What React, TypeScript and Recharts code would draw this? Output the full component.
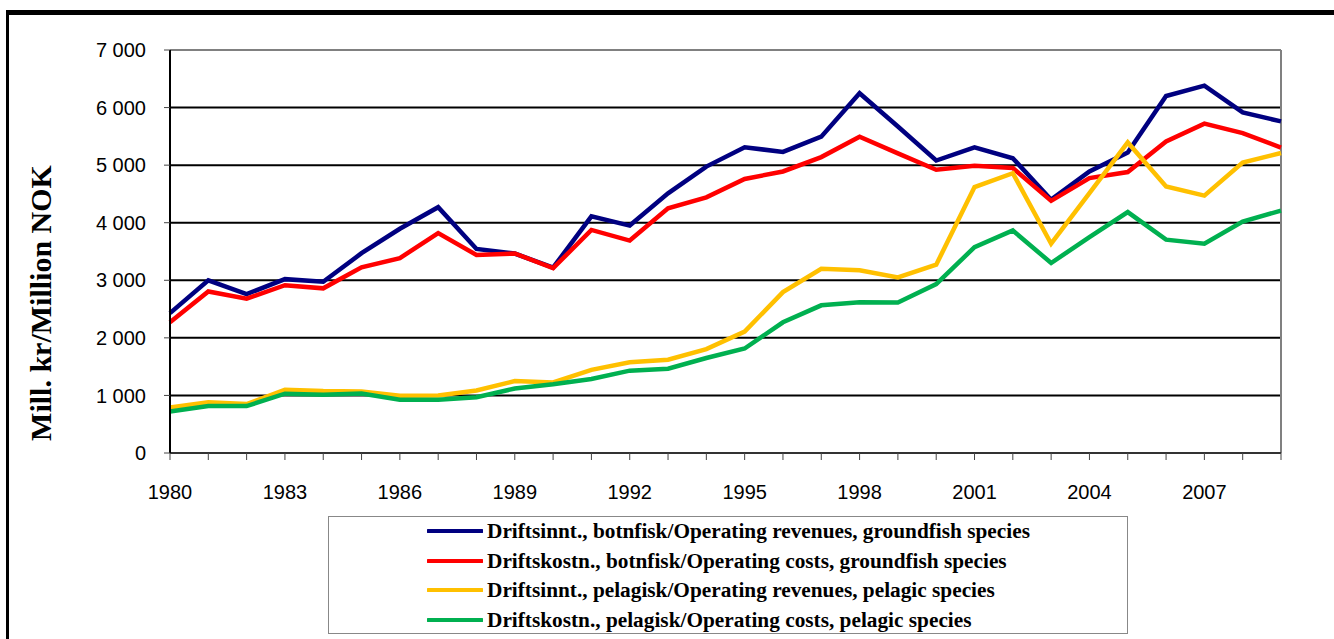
import React from 'react';
import { LineChart, Line, XAxis, YAxis, CartesianGrid, ReferenceLine, Legend, Label } from 'recharts';

const years = [1980, 1981, 1982, 1983, 1984, 1985, 1986, 1987, 1988, 1989, 1990, 1991, 1992, 1993, 1994, 1995, 1996, 1997, 1998, 1999, 2000, 2001, 2002, 2003, 2004, 2005, 2006, 2007, 2008, 2009];

const revGround = [2430, 3000, 2760, 3020, 2975, 3470, 3895, 4270, 3545, 3465, 3220, 4110, 3950, 4510, 4975, 5310, 5230, 5495, 6250, 5670, 5080, 5310, 5120, 4400, 4890, 5220, 6200, 6380, 5915, 5760];
const costGround = [2270, 2805, 2680, 2915, 2860, 3225, 3385, 3820, 3440, 3465, 3210, 3875, 3690, 4250, 4440, 4760, 4890, 5140, 5495, 5205, 4920, 4990, 4950, 4380, 4775, 4880, 5410, 5720, 5555, 5305];
const revPelagic = [790, 880, 850, 1100, 1075, 1070, 995, 1000, 1085, 1250, 1225, 1445, 1575, 1620, 1805, 2110, 2795, 3200, 3175, 3050, 3270, 4620, 4860, 3635, 4515, 5395, 4630, 4470, 5045, 5210];
const costPelagic = [720, 815, 815, 1030, 1010, 1035, 925, 925, 970, 1120, 1195, 1285, 1430, 1465, 1650, 1815, 2270, 2565, 2620, 2615, 2935, 3575, 3865, 3300, 3750, 4185, 3705, 3635, 4020, 4210];

const yTicks = [0, 1000, 2000, 3000, 4000, 5000, 6000, 7000];

const seriesNames = [
  'Driftsinnt., botnfisk/Operating revenues, groundfish species',
  'Driftskostn., botnfisk/Operating costs, groundfish species',
  'Driftsinnt., pelagisk/Operating revenues, pelagic species',
  'Driftskostn., pelagisk/Operating costs, pelagic species',
];
const seriesKeys = ['revGround', 'costGround', 'revPelagic', 'costPelagic'];
const seriesColors = ['#000080', '#FF0000', '#FFC000', '#00B050'];

const data = years.map((y, i) => ({
  year: y,
  revGround: revGround[i],
  costGround: costGround[i],
  revPelagic: revPelagic[i],
  costPelagic: costPelagic[i],
}));

const fmtY = (v: number) => (v >= 1000 ? `${Math.floor(v / 1000)} ${String(v % 1000).padStart(3, '0')}` : String(v));
const fmtX = (v: number) => ((v - 1980) % 3 === 0 ? String(v) : '');

const sans = '"Liberation Sans", Arial, sans-serif';
const serif = '"Liberation Serif", "Times New Roman", serif';

const renderLegend = () => (
  <div style={{ width: 800, height: 118, boxSizing: 'border-box', border: '1px solid #888', background: '#fff', position: 'relative' }}>
    {seriesNames.map((n, i) => (
      <div key={n} style={{ position: 'absolute', left: 98, top: 2 + i * 29.6, height: 24, display: 'flex', alignItems: 'center' }}>
        <svg width={56} height={10} style={{ display: 'block' }}>
          <line x1={1} y1={5} x2={55} y2={5} stroke={seriesColors[i]} strokeWidth={4} strokeLinecap="round" />
        </svg>
        <span style={{ fontFamily: serif, fontWeight: 'bold', fontSize: 21.3, lineHeight: '24px', color: '#000', whiteSpace: 'nowrap', marginLeft: 4 }}>{n}</span>
      </div>
    ))}
  </div>
);

export default function App() {
  return (
    <div style={{ position: 'absolute', left: 0, top: 0, width: 1334, height: 639, overflow: 'hidden', background: '#fff' }}>
      <div style={{ position: 'absolute', left: 6, top: 10, width: 1400, height: 700, borderTop: '5px solid #000', borderLeft: '3px solid #000' }} />
      <div style={{ position: 'absolute', left: 0, top: 0 }}>
        <LineChart width={1334} height={639} data={data} margin={{ top: 50, right: 53, left: 100, bottom: 38 }}>
          <CartesianGrid vertical={false} stroke="#000" strokeWidth={2} />
          <XAxis
            dataKey="year"
            interval={0}
            tickFormatter={fmtX}
            tickSize={7}
            tickMargin={25}
            height={30}
            tickLine={{ stroke: '#444', strokeWidth: 1 }}
            axisLine={{ stroke: '#333', strokeWidth: 2 }}
            tick={{ fill: '#000', fontSize: 20, fontFamily: sans }}
          />
          <YAxis
            width={70}
            domain={[0, 7000]}
            ticks={yTicks}
            interval={0}
            tickFormatter={fmtY}
            tickSize={6}
            tickMargin={18}
            tickLine={{ stroke: '#444', strokeWidth: 1 }}
            axisLine={{ stroke: '#000', strokeWidth: 2 }}
            tick={{ fill: '#000', fontSize: 20, fontFamily: sans }}
          >
            <Label
              content={() => (
                <text
                  x={40}
                  y={303}
                  transform="rotate(-90 40 303)"
                  textAnchor="middle"
                  dominantBaseline="central"
                  style={{ fontFamily: serif, fontWeight: 'bold', fontSize: 30, fill: '#000' }}
                >
                  Mill. kr/Million NOK
                </text>
              )}
            />
          </YAxis>
          <ReferenceLine y={7000} stroke="#808080" strokeWidth={2} />
          <ReferenceLine x={2009} stroke="#808080" strokeWidth={2} />
          {seriesKeys.map((k, i) => (
            <Line
              key={k}
              type="linear"
              dataKey={k}
              name={seriesNames[i]}
              stroke={seriesColors[i]}
              strokeWidth={4.5}
              dot={false}
              activeDot={false}
              isAnimationActive={false}
            />
          ))}
          <Legend content={renderLegend} wrapperStyle={{ position: 'absolute', left: 328, top: 516, width: 800, height: 118, bottom: 'auto' }} />
        </LineChart>
      </div>
    </div>
  );
}
